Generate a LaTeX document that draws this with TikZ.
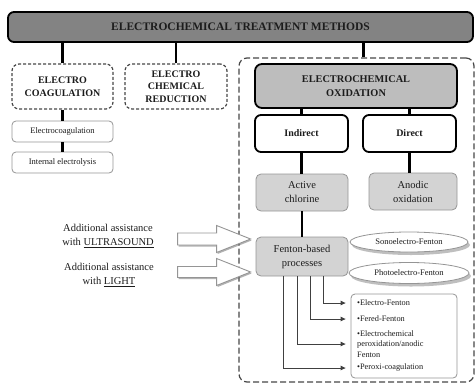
\documentclass[tikz,border=0pt]{standalone}
\usepackage{fontspec}
\setmainfont{Liberation Serif}
\usetikzlibrary{arrows.meta, positioning, shapes.geometric, shadows}

\begin{document}
\begin{tikzpicture}[
    x=1pt, y=-1pt,
    every node/.style={font=\rmfamily},
]

% ---------------------------------------------------------------- colours
\definecolor{barfill}{HTML}{838383}    % the title bar
\definecolor{oxfill}{HTML}{BDBDBD}     % the oxidation box
\definecolor{procfill}{HTML}{D3D3D3}   % the process boxes
\definecolor{procline}{HTML}{959595}
\definecolor{dashline}{HTML}{464646}
\definecolor{inkcolor}{HTML}{1C1C1C}

\tikzset{
    titlebar/.style={rectangle, rounded corners=6pt, draw=black, line width=1.8pt,
                     fill=barfill, text=inkcolor,
                     font=\fontsize{11.5}{13}\selectfont\bfseries},
    groupbox/.style={rectangle, rounded corners=7pt, draw=dashline, line width=1.2pt,
                     dash pattern=on 3pt off 2pt, align=center, text=inkcolor,
                     font=\fontsize{10}{12.5}\selectfont\bfseries},
    panel/.style={rectangle, rounded corners=8pt, draw=dashline, line width=1.2pt,
                  dash pattern=on 6pt off 3pt},
    oxbox/.style={rectangle, rounded corners=7pt, draw=black, line width=1.8pt,
                  fill=oxfill, align=center, text=inkcolor,
                  font=\fontsize{10.3}{14}\selectfont\bfseries},
    routebox/.style={rectangle, rounded corners=6pt, draw=black, line width=1.8pt,
                     fill=white, text=inkcolor,
                     font=\fontsize{10}{12}\selectfont\bfseries},
    procbox/.style={rectangle, rounded corners=5pt, draw=procline, line width=0.8pt,
                    fill=procfill, align=center, text=inkcolor,
                    font=\fontsize{10.5}{14}\selectfont},
    subbox/.style={rectangle, rounded corners=4pt, draw=procline, line width=0.8pt,
                   fill=white, text=inkcolor, font=\fontsize{8.5}{10}\selectfont},
    variantoval/.style={ellipse, draw=procline, line width=0.8pt, fill=white,
                        inner sep=0pt, text=inkcolor,
                        font=\fontsize{8.5}{10}\selectfont,
                        drop shadow={shadow xshift=2pt, shadow yshift=-3pt,
                                     fill=black!50}},
    entry/.style={anchor=west, align=left, inner sep=0pt, text=inkcolor,
                  font=\fontsize{8.3}{10.8}\selectfont},
    assist/.style={align=center, text=inkcolor,
                   font=\fontsize{10.5}{13.5}\selectfont},
    link/.style={line width=2.3pt, black},
    feed/.style={-{Triangle[length=5pt, width=4.5pt]}, line width=0.9pt,
                 black!75, shorten >=5pt},
    blockarrow/.style={fill=white, draw=procline, line width=0.9pt,
                       drop shadow={shadow xshift=1pt, shadow yshift=-1.5pt,
                                    fill=black!60}},
}

% ================================================================
% GEOMETRY (1pt = 1 pixel, y downwards)
%   title bar          y = 12 .. 42
%   group boxes        y = 64 .. 109
%   indirect / direct  y = 115 .. 152
%   process boxes      y = 174 .. 211, fenton y = 237 .. 276
%   dashed panel       x = 239 .. 474, y = 58 .. 382
% ================================================================
\useasboundingbox (0,0) rectangle (476,383);

% ---------------------------------------------------------------- the panel
\node[panel, minimum width=235, minimum height=324] (panel) at (356.5,220) {};

% ---------------------------------------------------------------- title
\node[titlebar, minimum width=465, minimum height=30] (title) at (240.5,27)
    {ELECTROCHEMICAL TREATMENT METHODS};

% ---------------------------------------------------------------- groups
\node[groupbox, minimum width=101, minimum height=45] (ec) at (62.5,86.5)
    {ELECTRO\\COAGULATION};
\node[groupbox, minimum width=102, minimum height=45] (ecr) at (176,86.5)
    {ELECTRO\\CHEMICAL\\REDUCTION};
\node[oxbox, minimum width=202, minimum height=44] (eo) at (356,86)
    {ELECTROCHEMICAL\\OXIDATION};

% ---------------------------------------------------------------- coagulation
\node[subbox, minimum width=101, minimum height=21] (ecg) at (62.5,131.5)
    {Electrocoagulation};
\node[subbox, minimum width=101, minimum height=21] (iel) at (62.5,162.5)
    {Internal electrolysis};

% ---------------------------------------------------------------- oxidation
\node[routebox, minimum width=93, minimum height=37] (ind) at (301.5,133.5) {Indirect};
\node[routebox, minimum width=93, minimum height=37] (dir) at (409.5,133.5) {Direct};
\node[procbox, minimum width=92, minimum height=37] (acl) at (302,192.5)
    {Active\\chlorine};
\node[procbox, minimum width=88, minimum height=37] (ano) at (413,191.5)
    {Anodic\\oxidation};
\node[procbox, minimum width=92, minimum height=39] (fen) at (302,256.5)
    {Fenton-based\\processes};

\node[variantoval, minimum width=118, minimum height=20] (sono) at (409,242)
    {Sonoelectro-Fenton};
\node[variantoval, minimum width=120, minimum height=21] (photo) at (409,273)
    {Photoelectro-Fenton};

% ---------------------------------------------------------------- fenton list
\node[subbox, minimum width=106, minimum height=84] (lst) at (404,336) {};
\node[entry] (e1) at (357,303) {\textbullet Electro-Fenton};
\node[entry] (e2) at (357,319) {\textbullet Fered-Fenton};
\node[entry] (e3) at (357,344)
    {\textbullet Electrochemical\\peroxidation/anodic\\Fenton};
\node[entry] (e4) at (357,368) {\textbullet Peroxi-coagulation};

% ---------------------------------------------------------------- links
\draw[link] (ec.north) -- (ec.north |- title.south);
\draw[link] (ecr.north) -- (ecr.north |- title.south);
\draw[link] ([xshift=7pt]panel.north) -- ([xshift=7pt]panel.north |- title.south);
\draw[link] (ec.south) -- (ecg.north);
\draw[link] (ecg.south) -- (iel.north);
\draw[link] (ind.north) -- (ind.north |- eo.south);
\draw[link] (dir.north) -- (dir.north |- eo.south);
\draw[link] (ind.south) -- (ind.south |- acl.north);
\draw[link] (dir.south) -- (dir.south |- ano.north);
\draw[link] (acl.south) -- (fen.north);

\foreach \dx/\e in {21/e1, 8/e2, -5/e3, -19/e4}
    \draw[feed] ([xshift=\dx pt]fen.south) |- (\e -| lst.west);

% ---------------------------------------------------------------- assistance
\node[assist] (us) at (108,236) {Additional assistance\\with \underline{ULTRASOUND}};
\node[assist] (lt) at (109,275) {Additional assistance\\with \underline{LIGHT}};

\coordinate (ustip) at ([shift={(-5,-17.5)}]fen.west);
\coordinate (lttip) at ([shift={(-5,15.5)}]fen.west);
\draw[blockarrow] (ustip) -- ++(-34,-13.5) -- ++(0,7.5) -- ++(-39,0) -- ++(0,12)
    -- ++(39,0) -- ++(0,7.5) -- cycle;
\draw[blockarrow] (lttip) -- ++(-34,-13.5) -- ++(0,8) -- ++(-39,0) -- ++(0,11)
    -- ++(39,0) -- ++(0,8) -- cycle;

\end{tikzpicture}
\end{document}
